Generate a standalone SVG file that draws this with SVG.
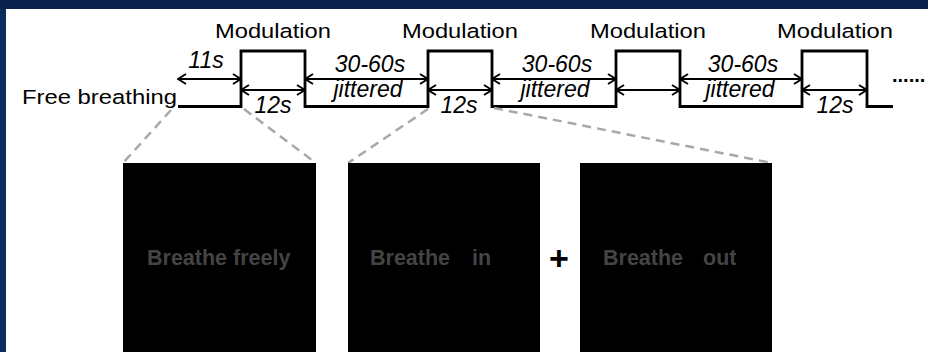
<svg xmlns="http://www.w3.org/2000/svg" width="928" height="352" viewBox="0 0 928 352">
  <style>
    .wave { fill: none; stroke: #000; stroke-width: 2.8; stroke-linejoin: miter; }
    .span { stroke: #000; stroke-width: 2; marker-start: url(#tip); marker-end: url(#tip); }
    .zoomline { fill: none; stroke: #a8a8a8; stroke-width: 2.5; stroke-dasharray: 9 6; }
    .head { font-family: "Liberation Sans", Arial, sans-serif; font-size: 20.5px; fill: #000; }
    .dur { font-family: "Liberation Sans", Arial, sans-serif; font-size: 23px; font-style: italic; fill: #000; text-anchor: middle; }
    .screen { fill: #000; }
    .cue { font-family: "Liberation Sans", Arial, sans-serif; font-size: 21.5px; font-weight: bold; fill: #444; }
  </style>
  <defs>
    <marker id="tip" viewBox="0 0 10 12" refX="9" refY="6" markerWidth="10" markerHeight="12" markerUnits="userSpaceOnUse" orient="auto-start-reverse">
      <path d="M1,1 L9,6 L1,11" fill="none" stroke="#000" stroke-width="2"/>
    </marker>
  </defs>

  <!-- frame -->
  <rect x="0" y="0" width="928" height="352" fill="#0b2d5d"/>
  <rect x="0" y="0" width="928" height="9" fill="#08204a"/>
  <rect x="6" y="9" width="922" height="343" fill="#fff"/>

  <!-- block-design timeline -->
  <g id="timeline">
    <path class="wave" d="M178,106.5 H241 V51 H305 V106.5 H428 V51 H492 V106.5 H616 V51 H680 V106.5 H802 V51 H867 V106.5 H893"/>
    <text class="head" x="22" y="103.5" textLength="155" lengthAdjust="spacingAndGlyphs">Free breathing</text>
    <text class="head" x="215" y="38" textLength="116" lengthAdjust="spacingAndGlyphs">Modulation</text>
    <text class="head" x="402" y="38" textLength="116" lengthAdjust="spacingAndGlyphs">Modulation</text>
    <text class="head" x="590" y="38" textLength="116" lengthAdjust="spacingAndGlyphs">Modulation</text>
    <text class="head" x="777" y="38" textLength="116" lengthAdjust="spacingAndGlyphs">Modulation</text>
    <text x="892" y="82" font-family="Liberation Sans, Arial, sans-serif" font-size="20" font-weight="bold" fill="#000">......</text>
  </g>

  <!-- duration spans -->
  <g id="durations">
    <line class="span" x1="178" y1="79" x2="241" y2="79"/>
    <text class="dur" x="206" y="68">11s</text>

    <line class="span" x1="241" y1="90" x2="305" y2="90"/>
    <text class="dur" x="273" y="113">12s</text>

    <line class="span" x1="305" y1="79" x2="428" y2="79"/>
    <text class="dur" x="370" y="72">30-60s</text>
    <text class="dur" x="368" y="97">jittered</text>

    <line class="span" x1="428" y1="90" x2="492" y2="90"/>
    <text class="dur" x="459" y="113">12s</text>

    <line class="span" x1="492" y1="79" x2="616" y2="79"/>
    <text class="dur" x="557" y="72">30-60s</text>
    <text class="dur" x="555" y="97">jittered</text>

    <line class="span" x1="616" y1="90" x2="680" y2="90"/>

    <line class="span" x1="680" y1="79" x2="802" y2="79"/>
    <text class="dur" x="743" y="72">30-60s</text>
    <text class="dur" x="740" y="97">jittered</text>

    <line class="span" x1="802" y1="90" x2="867" y2="90"/>
    <text class="dur" x="835" y="113">12s</text>
  </g>

  <!-- dashed guides from the timeline down to the screens -->
  <g id="connectors">
    <line class="zoomline" x1="171" y1="110" x2="123" y2="163"/>
    <line class="zoomline" x1="244" y1="109" x2="316" y2="163"/>
    <line class="zoomline" x1="428" y1="109" x2="348" y2="163"/>
    <line class="zoomline" x1="494" y1="108" x2="772" y2="163"/>
  </g>

  <!-- instruction screens -->
  <g id="screen-free">
    <rect class="screen" x="123" y="163" width="193" height="189"/>
    <text class="cue" x="147" y="265">Breathe freely</text>
  </g>
  <g id="screen-in">
    <rect class="screen" x="348" y="163" width="192" height="189"/>
    <text class="cue" x="370" y="265">Breathe</text>
    <text class="cue" x="472" y="265">in</text>
  </g>
  <g id="plus">
    <text x="559" y="270" font-family="Liberation Sans, Arial, sans-serif" font-size="34" font-weight="bold" fill="#000" text-anchor="middle">+</text>
  </g>
  <g id="screen-out">
    <rect class="screen" x="580" y="163" width="192" height="189"/>
    <text class="cue" x="603" y="265">Breathe</text>
    <text class="cue" x="703" y="265">out</text>
  </g>
</svg>
